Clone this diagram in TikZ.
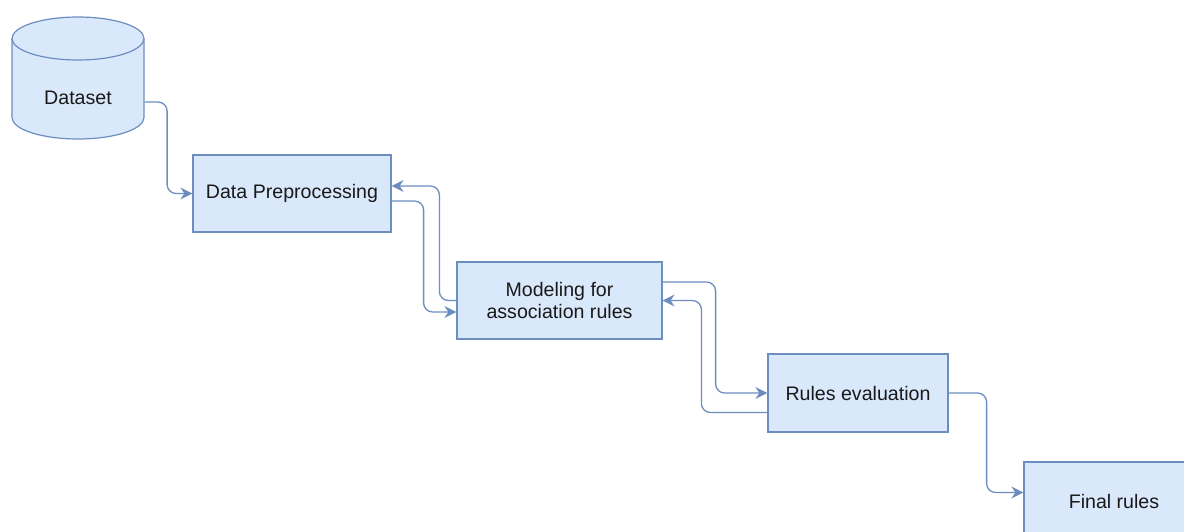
\documentclass[tikz,border=0pt]{standalone}
\usepackage{fontspec}
\setmainfont{Liberation Sans}
\usetikzlibrary{arrows.meta}
\definecolor{boxfill}{HTML}{DAE8FC}
\definecolor{boxline}{HTML}{6C8EBF}
\begin{document}
\begin{tikzpicture}[x=1pt,y=-1pt,
    box/.style={draw=boxline,fill=boxfill,line width=1.2pt,align=center,
      font=\fontsize{19.6}{22}\selectfont,text=black!90},
    link/.style={draw=boxline,line width=1.3pt,rounded corners=9pt,
      -{Stealth[length=12pt,width=12pt,inset=4pt]}}]
    \useasboundingbox (0,0) rectangle (1184,531);
    \clip (0,0) rectangle (1184,531);
    % cylinder
    \fill[boxfill] (12,38.5) rectangle (144,117.5);
    \fill[boxfill] (78,117.5) ellipse [x radius=66pt,y radius=21.5pt];
    \draw[boxline,line width=1.2pt] (12,38.5) -- (12,117.5)
        arc[start angle=180,end angle=360,x radius=66pt,y radius=21.5pt] -- (144,38.5);
    \draw[boxline,fill=boxfill,line width=1.2pt] (78,38.5) ellipse [x radius=66pt,y radius=21.5pt];
    \node[box,draw=none,fill=none,minimum width=132pt] (dataset) at (78,98) {Dataset};
    % steps
    \node[box,minimum width=198pt,minimum height=77pt] (prep) at (292,193.5) {Data Preprocessing};
    \node[box,minimum width=205pt,minimum height=77pt] (model) at (559.5,300.5) {Modeling for\\association rules};
    \node[box,minimum width=180pt,minimum height=78pt] (rules) at (858,393) {Rules evaluation};
    \node[box,minimum width=180pt,minimum height=78pt] (final) at (1114,501) {Final rules};
    % links
    \draw[link] ([yshift=-4pt]dataset.east) -- ++(22.5,0) |- (prep.west);
    \draw[link] ([yshift=-7.5pt]prep.east) -- ++(32,0) |- ([yshift=-11.5pt]model.west);
    \draw[link] (model.west) -- ++(-17,0) |- ([yshift=7.5pt]prep.east);
    \draw[link] ([yshift=18.5pt]model.east) -- ++(53,0) |- (rules.west);
    \draw[link] ([yshift=-19.5pt]rules.west) -- ++(-66,0) |- (model.east);
    \draw[link] (rules.east) -- ++(38,0) |- ([yshift=8.5pt]final.west);
\end{tikzpicture}
\end{document}
